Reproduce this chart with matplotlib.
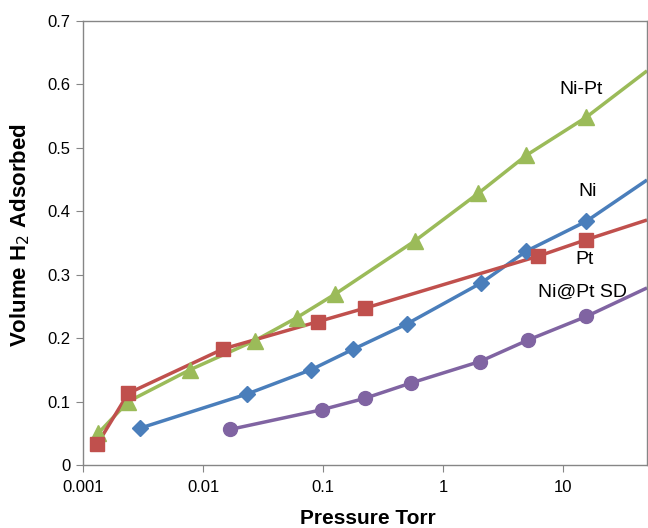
import matplotlib
matplotlib.use("Agg")
import matplotlib.pyplot as plt

plt.rcParams['font.family'] = ['Liberation Sans', 'DejaVu Sans']

# Measured isotherms: pressure (Torr) vs. adsorbed H2 volume
nipt_p = [0.00133, 0.00237, 0.00774, 0.027, 0.060, 0.125, 0.58, 1.96, 4.94, 15.6]
nipt_v = [0.050, 0.100, 0.150, 0.196, 0.232, 0.269, 0.353, 0.428, 0.488, 0.548]

ni_p = [0.00297, 0.0233, 0.079, 0.176, 0.495, 2.08, 4.94, 15.6]
ni_v = [0.058, 0.112, 0.150, 0.182, 0.222, 0.287, 0.337, 0.384]

pt_p = [0.00131, 0.00237, 0.0147, 0.091, 0.222, 6.19, 15.6]
pt_v = [0.033, 0.113, 0.183, 0.226, 0.247, 0.329, 0.355]

sd_p = [0.0167, 0.097, 0.222, 0.535, 2.02, 5.11, 15.6]
sd_v = [0.056, 0.087, 0.105, 0.129, 0.163, 0.197, 0.234]

# Extension of each curve out to the right-hand axis limit
tail_p = 50.0
nipt_tail = 0.621
ni_tail = 0.449
pt_tail = 0.386
sd_tail = 0.279

series = [
    ("Ni-Pt", nipt_p, nipt_v, nipt_tail, "#9BBB59", "^", 11, (581, 90)),
    ("Ni", ni_p, ni_v, ni_tail, "#4A7EBB", "D", 8, (588, 191)),
    ("Pt", pt_p, pt_v, pt_tail, "#C0504D", "s", 10, (585, 259)),
    ("Ni@Pt SD", sd_p, sd_v, sd_tail, "#8064A2", "o", 10, (583, 292)),
]

W, H = 648, 528
fig = plt.figure(figsize=(W / 100, H / 100), dpi=100)
left, right, top, bottom = 83.3, 647.0, 20.7, 465.0
ax = fig.add_axes([left / W, 1 - bottom / H, (right - left) / W, (bottom - top) / H])

for name, p, v, tail, color, marker, ms, _ in series:
    ax.plot(list(p) + [tail_p], list(v) + [tail], color=color, lw=2.5,
            solid_capstyle='butt', zorder=2, clip_on=True)
    ax.plot(p, v, linestyle='none', marker=marker, markersize=ms, color=color,
            markeredgecolor=color, zorder=3)

for name, p, v, tail, color, marker, ms, (lx, ly) in series:
    fig.text(lx / W, 1 - ly / H, name, ha='center', va='center', fontsize=14,
             color='black')

ax.set_xscale('log')
ax.set_xlim(0.001, tail_p)
ax.set_ylim(0, 0.7)
ax.set_xticks([0.001, 0.01, 0.1, 1, 10])
ax.set_xticklabels(["0.001", "0.01", "0.1", "1", "10"])
ax.xaxis.set_minor_locator(matplotlib.ticker.NullLocator())
ax.set_yticks([0, 0.1, 0.2, 0.3, 0.4, 0.5, 0.6, 0.7])
ax.set_yticklabels(["0", "0.1", "0.2", "0.3", "0.4", "0.5", "0.6", "0.7"])

for s in ax.spines.values():
    s.set_color('#868686')
    s.set_linewidth(1.0)
ax.tick_params(axis='both', which='major', direction='out', length=5,
               color='#868686', labelsize=12, labelcolor='black', pad=4)
ax.tick_params(axis='x', pad=6)

# Axis titles placed at fixed figure positions
fig.text(368 / W, 1 - 518 / H, "Pressure Torr", ha='center', va='center',
         fontsize=15, fontweight='bold')
fig.text(20 / W, 1 - 235 / H, "Volume H$_2$ Adsorbed", ha='center', va='center',
         rotation=90, fontsize=16, fontweight='bold')

fig.savefig("out.png", dpi=100)
